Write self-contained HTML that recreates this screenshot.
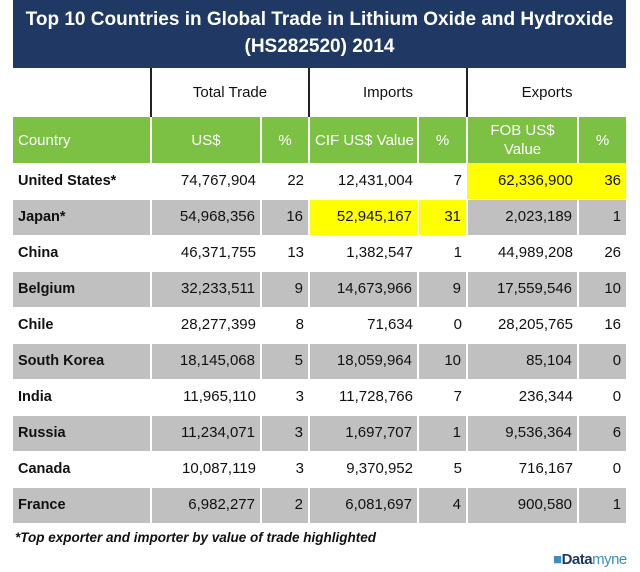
<!DOCTYPE html>
<html><head><style>
body{margin:0;width:640px;height:572px;background:#fff;position:relative;font-family:"Liberation Sans",sans-serif;overflow:hidden}
.ttl{position:absolute;left:13px;top:0;width:613px;height:68px;background:#1f3864;color:#fff;font-weight:bold;font-size:19px;text-align:center;line-height:27px;padding-top:6px;box-sizing:border-box}
table{position:absolute;left:13px;top:68px;border-collapse:collapse;table-layout:fixed;width:613px}
td{padding:0 5px;font-size:15px;color:#111;height:36px;box-sizing:border-box;white-space:nowrap;vertical-align:middle;line-height:18px}
td.n{text-align:right}
tr.g td{background:#c0c0c0;border-left:2px solid #fff}
tr.g td:first-child{border-left:none}
tr.g td{border-top:1px solid #fff;border-bottom:1px solid #fff}
tr.h td{height:49px;text-align:center;border-left:2px solid #222;font-size:15px}
tr.h td:first-child{border-left:none}
tr.gr td{background:#7cc143;color:#fff;height:46px;text-align:center;border-left:2px solid #fff;font-size:15px;line-height:19px}
tr.gr td:first-child{border-left:none;text-align:left}
td.c{font-weight:bold;font-size:14.5px}
.y{background:#ffff00!important}
.fn{position:absolute;left:15px;top:530px;font-size:13.5px;font-weight:bold;font-style:italic;color:#111}
.dm{position:absolute;left:553px;top:551px;font-size:15px;font-weight:bold;color:#1f3864;letter-spacing:-0.5px}
</style></head><body>
<div class="ttl">Top 10 Countries in Global Trade in Lithium Oxide and Hydroxide<br>(HS282520) 2014</div>
<table>
<colgroup><col style="width:138px"><col style="width:110px"><col style="width:48px"><col style="width:109px"><col style="width:49px"><col style="width:111px"><col style="width:48px"></colgroup>
<tr class="h"><td></td><td colspan="2">Total Trade</td><td colspan="2">Imports</td><td colspan="2">Exports</td></tr>
<tr class="gr"><td>Country</td><td>US$</td><td>%</td><td>CIF US$ Value</td><td>%</td><td>FOB US$<br>Value</td><td>%</td></tr>
<tr><td class="c">United States*</td><td class="n">74,767,904</td><td class="n">22</td><td class="n">12,431,004</td><td class="n">7</td><td class="n y">62,336,900</td><td class="n y">36</td></tr>
<tr class="g"><td class="c">Japan*</td><td class="n">54,968,356</td><td class="n">16</td><td class="n y">52,945,167</td><td class="n y">31</td><td class="n">2,023,189</td><td class="n">1</td></tr>
<tr><td class="c">China</td><td class="n">46,371,755</td><td class="n">13</td><td class="n">1,382,547</td><td class="n">1</td><td class="n">44,989,208</td><td class="n">26</td></tr>
<tr class="g"><td class="c">Belgium</td><td class="n">32,233,511</td><td class="n">9</td><td class="n">14,673,966</td><td class="n">9</td><td class="n">17,559,546</td><td class="n">10</td></tr>
<tr><td class="c">Chile</td><td class="n">28,277,399</td><td class="n">8</td><td class="n">71,634</td><td class="n">0</td><td class="n">28,205,765</td><td class="n">16</td></tr>
<tr class="g"><td class="c">South Korea</td><td class="n">18,145,068</td><td class="n">5</td><td class="n">18,059,964</td><td class="n">10</td><td class="n">85,104</td><td class="n">0</td></tr>
<tr><td class="c">India</td><td class="n">11,965,110</td><td class="n">3</td><td class="n">11,728,766</td><td class="n">7</td><td class="n">236,344</td><td class="n">0</td></tr>
<tr class="g"><td class="c">Russia</td><td class="n">11,234,071</td><td class="n">3</td><td class="n">1,697,707</td><td class="n">1</td><td class="n">9,536,364</td><td class="n">6</td></tr>
<tr><td class="c">Canada</td><td class="n">10,087,119</td><td class="n">3</td><td class="n">9,370,952</td><td class="n">5</td><td class="n">716,167</td><td class="n">0</td></tr>
<tr class="g"><td class="c">France</td><td class="n">6,982,277</td><td class="n">2</td><td class="n">6,081,697</td><td class="n">4</td><td class="n">900,580</td><td class="n">1</td></tr>
</table>
<div class="fn">*Top exporter and importer by value of trade highlighted</div>
<div class="dm"><span style="color:#3a8fc0">■</span>Data<span style="color:#3a8fc0;font-weight:normal">myne</span></div>
</body></html>
